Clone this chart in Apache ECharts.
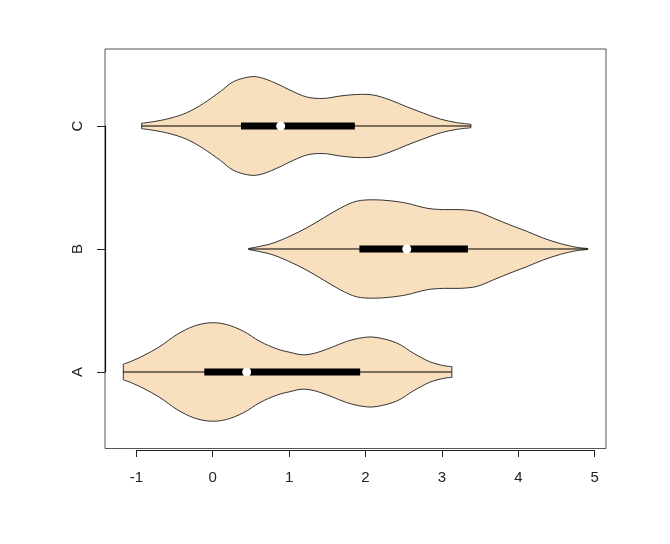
<!DOCTYPE html>
<html>
<head>
<meta charset="utf-8">
<script src="https://cdn.jsdelivr.net/npm/echarts@6/dist/echarts.min.js"></script>
<style>
  html, body { margin: 0; padding: 0; background: #fff; }
  #chart { width: 670px; height: 544px; }
</style>
</head>
<body>
<div id="chart"></div>
<script>
const categories = ['A', 'B', 'C'];

// density outline (x value, relative half width)
const aX = [-1.17, -1.08, -0.91, -0.69, -0.47, -0.25, -0.03, 0.18, 0.40, 0.62, 0.84, 1.01, 1.17, 1.33, 1.54, 1.75, 1.97, 2.15, 2.41, 2.63, 2.84, 3.02, 3.13];
const aDens = [0.16, 0.21, 0.33, 0.52, 0.76, 0.93, 1.00, 0.965, 0.83, 0.62, 0.47, 0.40, 0.35, 0.38, 0.49, 0.62, 0.70, 0.70, 0.59, 0.38, 0.21, 0.13, 0.11];
const bX = [0.47, 0.62, 0.79, 1.01, 1.23, 1.45, 1.67, 1.88, 2.10, 2.32, 2.54, 2.80, 3.02, 3.24, 3.46, 3.67, 3.89, 4.11, 4.33, 4.55, 4.76, 4.91];
const bDens = [0.01, 0.055, 0.12, 0.26, 0.43, 0.63, 0.83, 0.97, 1.00, 0.98, 0.93, 0.83, 0.80, 0.80, 0.76, 0.63, 0.49, 0.36, 0.22, 0.11, 0.035, 0.01];
const cX = [-0.93, -0.78, -0.56, -0.34, -0.12, 0.10, 0.27, 0.49, 0.66, 0.88, 1.01, 1.23, 1.45, 1.67, 1.88, 2.10, 2.32, 2.54, 2.76, 2.98, 3.19, 3.38];
const cDens = [0.055, 0.087, 0.156, 0.27, 0.46, 0.70, 0.90, 1.00, 0.97, 0.83, 0.73, 0.59, 0.56, 0.61, 0.64, 0.63, 0.53, 0.39, 0.26, 0.14, 0.07, 0.035];

// [min, q1, median, q3, max]
const aStats = [-1.17, -0.11, 0.445, 1.93, 3.13];
const bStats = [0.47, 1.92, 2.54, 3.34, 4.91];
const cStats = [-0.93, 0.37, 0.89, 1.86, 3.38];

const xTicks = [-1, 0, 1, 2, 3, 4, 5];

const groups = [
    { x: aX, d: aDens, s: aStats },
    { x: bX, d: bDens, s: bStats },
    { x: cX, d: cDens, s: cStats },
];

const halfWidth = 0.4;
const font = "'Liberation Sans', Arial, sans-serif";

const chart = echarts.init(document.getElementById('chart'), null, { renderer: 'canvas' });

// catmull-rom curve through pixel points -> svg path segments
function curveThrough(pts, start) {
    let d = start ? `M${pts[0][0]},${pts[0][1]}` : `L${pts[0][0]},${pts[0][1]}`;
    for (let i = 0; i < pts.length - 1; i++) {
        const p0 = pts[Math.max(i - 1, 0)];
        const p1 = pts[i];
        const p2 = pts[i + 1];
        const p3 = pts[Math.min(i + 2, pts.length - 1)];
        const c1x = p1[0] + (p2[0] - p0[0]) / 6;
        const c1y = p1[1] + (p2[1] - p0[1]) / 6;
        const c2x = p2[0] - (p3[0] - p1[0]) / 6;
        const c2y = p2[1] - (p3[1] - p1[1]) / 6;
        d += ` C${c1x},${c1y} ${c2x},${c2y} ${p2[0]},${p2[1]}`;
    }
    return d;
}

function renderViolin(params, api) {
    const gi = params.dataIndex;
    const g = groups[gi];
    const yc = gi + 1;
    const upper = g.x.map((x, i) => api.coord([x, yc + g.d[i] * halfWidth]));
    const lower = g.x.map((x, i) => api.coord([x, yc - g.d[i] * halfWidth])).reverse();
    const pathData = curveThrough(upper, true) + ' ' + curveThrough(lower, false) + ' Z';
    const p0 = api.coord([g.s[0], yc]);
    const p1 = api.coord([g.s[1], yc]);
    const p2 = api.coord([g.s[2], yc]);
    const p3 = api.coord([g.s[3], yc]);
    const p4 = api.coord([g.s[4], yc]);
    return {
        type: 'group',
        children: [
            {
                type: 'path',
                shape: { pathData: pathData },
                style: { fill: '#F8DFBD', stroke: '#333', lineWidth: 1 }
            },
            {
                type: 'line',
                shape: { x1: p0[0], y1: p0[1], x2: p4[0], y2: p4[1] },
                style: { stroke: '#000', lineWidth: 1 }
            },
            {
                type: 'rect',
                shape: { x: p1[0], y: p1[1] - 3.5, width: p3[0] - p1[0], height: 7 },
                style: { fill: '#000' }
            },
            {
                type: 'circle',
                shape: { cx: p2[0], cy: p2[1], r: 4.5 },
                style: { fill: '#fff' }
            }
        ]
    };
}

const option = {
    backgroundColor: '#fff',
    animation: false,
    grid: [
        // plot frame
        { left: 105, right: 64, top: 49, bottom: 95.5, show: true, borderColor: '#555', borderWidth: 1, backgroundColor: 'transparent' },
        // x axis (R style, -1..5)
        { left: 136.3, right: 75.3, top: 49, bottom: 94 },
        // y axis (A..C)
        { left: 105, right: 64, top: 126, bottom: 172 }
    ],
    xAxis: [
        { gridIndex: 0, type: 'value', min: -1.41, max: 5.148, show: false },
        {
            gridIndex: 1, type: 'value', min: xTicks[0], max: xTicks[xTicks.length - 1], interval: 1,
            axisLine: { show: true, onZero: false, lineStyle: { color: '#222', width: 1 } },
            axisTick: { show: true, length: 7, lineStyle: { color: '#222' } },
            axisLabel: { margin: 20, fontSize: 15, color: '#222', fontFamily: font },
            splitLine: { show: false }
        },
        { gridIndex: 2, type: 'value', show: false }
    ],
    yAxis: [
        { gridIndex: 0, type: 'value', min: 0.378, max: 3.626, show: false },
        { gridIndex: 1, type: 'value', show: false },
        {
            gridIndex: 2, type: 'category', data: categories, boundaryGap: false,
            axisLine: { show: true, lineStyle: { color: '#111', width: 1.2 } },
            axisTick: { show: true, length: 8, alignWithLabel: true, lineStyle: { color: '#222' } },
            axisLabel: { rotate: 90, margin: 20, fontSize: 15, color: '#222', fontFamily: font },
            splitLine: { show: false }
        }
    ],
    series: [{
        type: 'custom',
        xAxisIndex: 0,
        yAxisIndex: 0,
        renderItem: renderViolin,
        data: categories.map((c, i) => [i]),
        encode: { x: -1, y: -1 },
        silent: true,
        clip: false
    }]
};

chart.setOption(option);
</script>
</body>
</html>
